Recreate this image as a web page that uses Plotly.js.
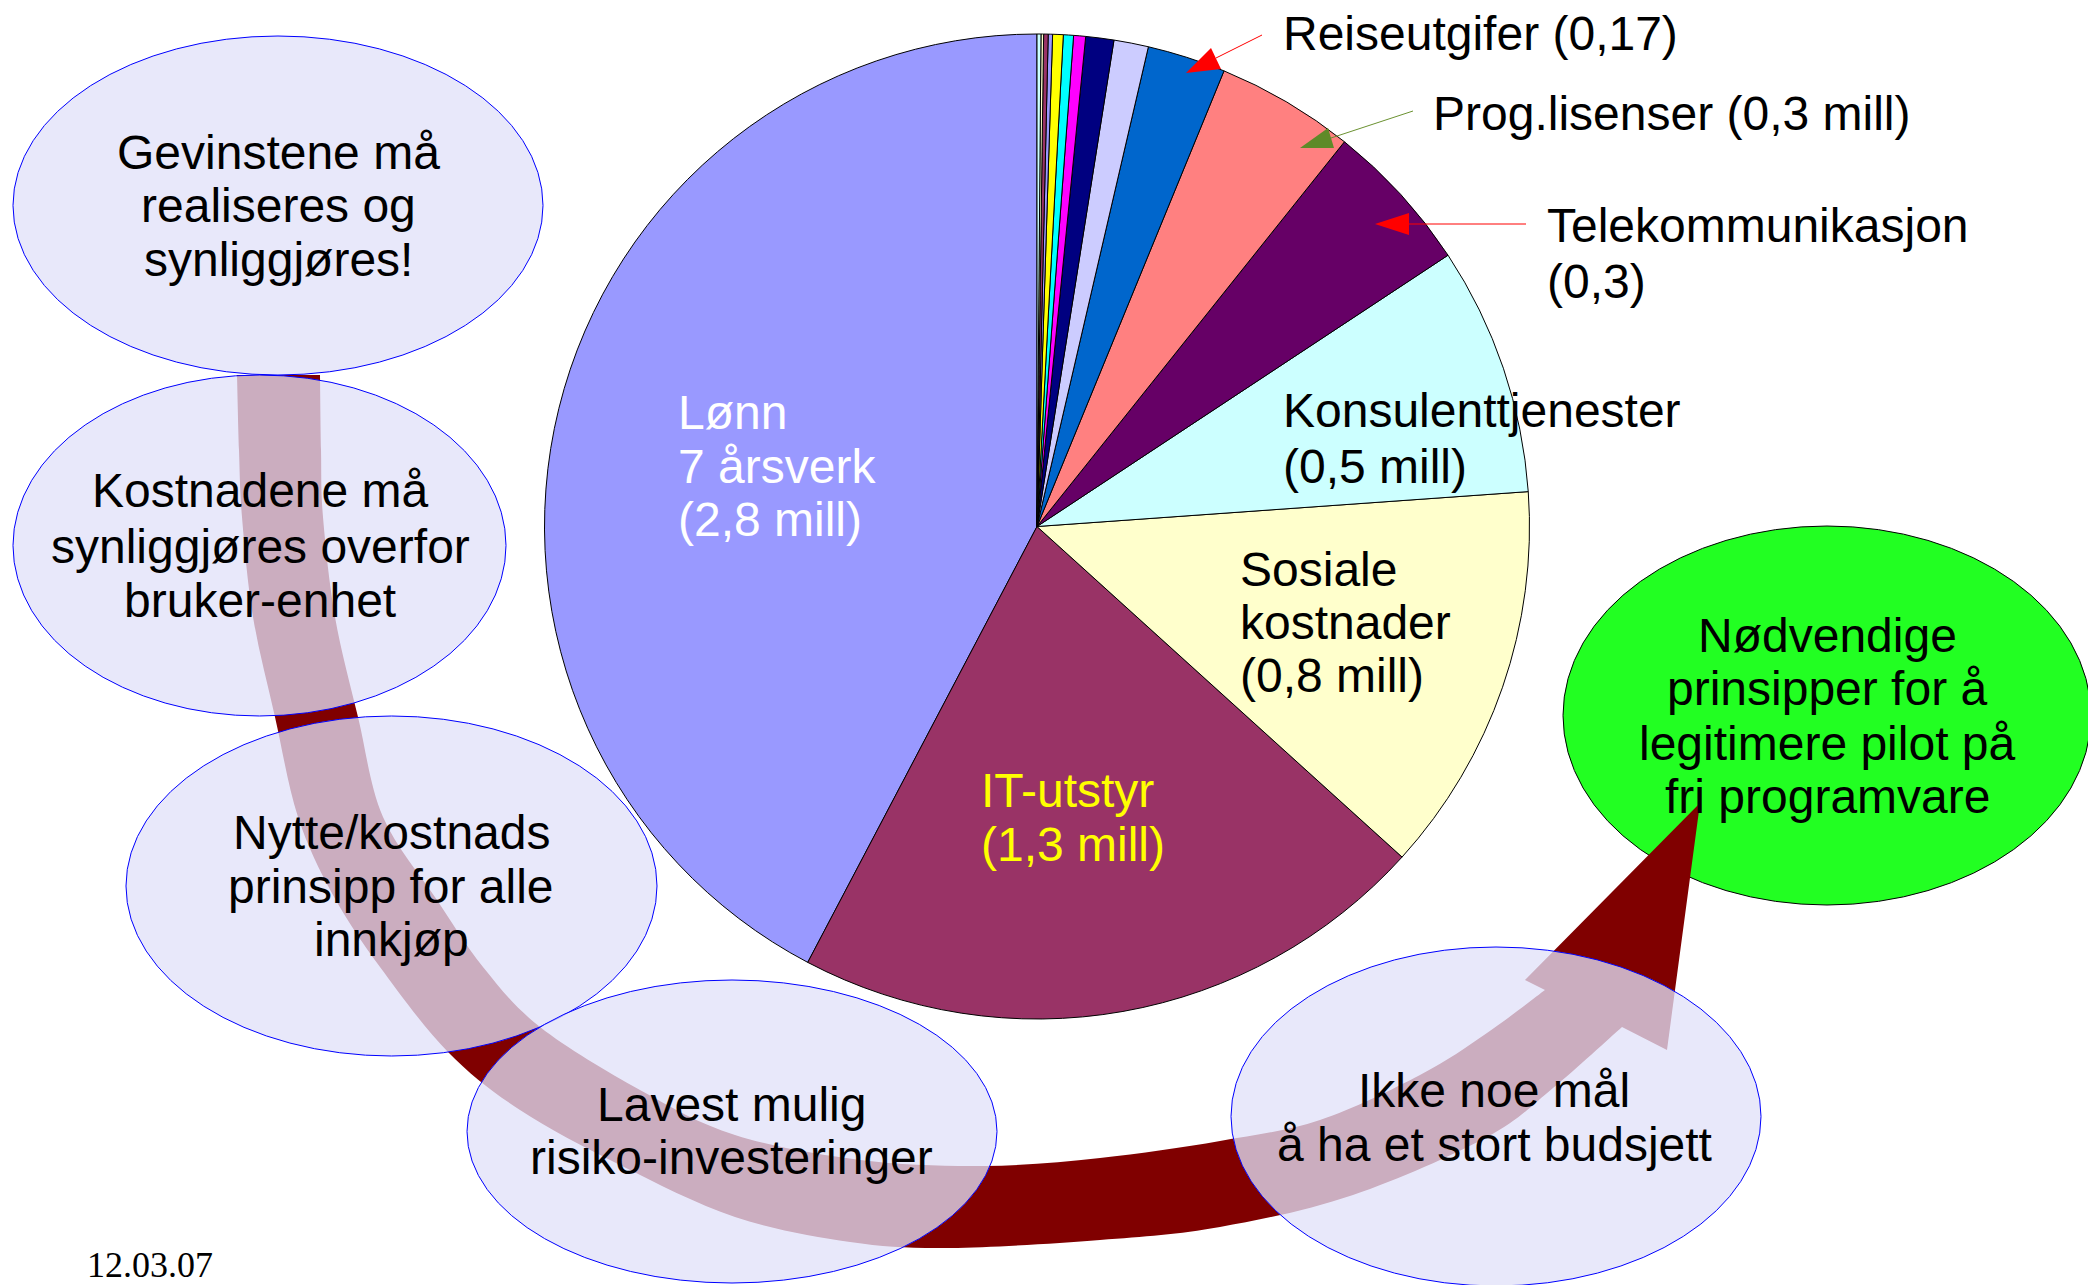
<!DOCTYPE html>
<html>
<head>
<meta charset="utf-8">
<script src="https://cdn.plot.ly/plotly-3.0.1.min.js"></script>
<style>
  html, body { margin: 0; padding: 0; background: #ffffff; }
  #chart { width: 2088px; height: 1285px; }
</style>
</head>
<body>
<div id="chart"></div>
<script>
// ---------- DATA (kostnader, mill. kr) ----------
const sliceLabels = [
  "Lønn", "IT-utstyr", "Sosiale kostnader", "Konsulenttjenester",
  "Telekommunikasjon", "Prog.lisenser", "Reiseutgifer",
  "Annet 1", "Annet 2", "Annet 3", "Annet 4", "Annet 5",
  "Annet 6", "Annet 7", "Annet 8", "Annet 9"
];
const sliceValues = [
  2.8, 1.39, 0.85, 0.54,
  0.33, 0.30, 0.17,
  0.075, 0.061, 0.026, 0.022, 0.023,
  0.0094, 0.0098, 0.0057, 0.0085
];
const sliceColors = [
  "#9999FF", "#993366", "#FFFFCC", "#CCFFFF",
  "#660066", "#FF8080", "#0066CC",
  "#CCCCFF", "#000080", "#FF00FF", "#00FFFF", "#FFFF00",
  "#9999FF", "#993366", "#FFFFCC", "#CCFFFF"
];

// Text blocks
const lonnText = ["Lønn", "7 årsverk", "(2,8 mill)"];
const itText = ["IT-utstyr", "(1,3 mill)"];
const sosText = ["Sosiale", "kostnader", "(0,8 mill)"];
const konsText = ["Konsulenttjenester", "(0,5 mill)"];
const teleText = ["Telekommunikasjon", "(0,3)"];
const progText = ["Prog.lisenser (0,3 mill)"];
const reiseText = ["Reiseutgifer (0,17)"];

const bubble1 = ["Gevinstene må", "realiseres og", "synliggjøres!"];
const bubble2 = ["Kostnadene må", "synliggjøres overfor", "bruker-enhet"];
const bubble3 = ["Nytte/kostnads", "prinsipp for alle", "innkjøp"];
const bubble4 = ["Lavest mulig", "risiko-investeringer"];
const bubble5 = ["Ikke noe mål", "å ha et stort budsjett"];
const goalText = ["Nødvendige", "prinsipper for å", "legitimere pilot på", "fri programvare"];
const dateText = "12.03.07";

// ---------- LAYOUT HELPERS ----------
const W = 2088, H = 1285;
const X = p => p / W;
const Y = p => 1 - p / H;
const FONT = "Liberation Sans, Arial, sans-serif";

const annotations = [];
function addLines(lines, px, ys, anchor, color, size, family) {
  lines.forEach((t, i) => {
    annotations.push({
      xref: "paper", yref: "paper",
      x: X(px), y: Y(ys[i]),
      text: t, showarrow: false,
      xanchor: anchor, yanchor: "middle",
      font: { family: family || FONT, size: size || 48, color: color || "#000000" }
    });
  });
}

addLines(lonnText, 676, [413, 466, 519], "left", "#FFFFFF");
addLines(itText, 979, [790, 844], "left", "#FFFF00");
addLines(sosText, 1238, [569, 622, 675], "left");
addLines(konsText, 1281, [411, 466], "left");
addLines(teleText, 1545, [225, 281], "left");
addLines(progText, 1431, [113], "left");
addLines(reiseText, 1281, [33], "left");

addLines(bubble1, 278, [152, 206, 260], "center");
addLines(bubble2, 260, [491, 546, 600], "center");
addLines(bubble3, 391, [832, 886, 940], "center");
addLines(bubble4, 731, [1104, 1157], "center");
addLines(bubble5, 1494, [1090, 1144], "center");
addLines(goalText, 1827, [635, 688, 743, 796], "center");
addLines([dateText], 85, [1265], "left", "#000000", 36, "Liberation Serif, Times New Roman, serif");

// smooth path helper (Catmull-Rom -> cubic Bezier), pixel -> paper
function P(pt) { return X(pt[0]).toFixed(5) + "," + Y(pt[1]).toFixed(5); }
function smooth(pts) {
  let s = "";
  for (let i = 0; i < pts.length - 1; i++) {
    const p0 = pts[Math.max(0, i - 1)], p1 = pts[i], p2 = pts[i + 1], p3 = pts[Math.min(pts.length - 1, i + 2)];
    const c1 = [p1[0] + (p2[0] - p0[0]) / 6, p1[1] + (p2[1] - p0[1]) / 6];
    const c2 = [p2[0] - (p3[0] - p1[0]) / 6, p2[1] - (p3[1] - p1[1]) / 6];
    s += " C " + P(c1) + " " + P(c2) + " " + P(p2);
  }
  return s;
}

const outerEdge = [[237,375],[239,450],[242,517],[253,617],[275,717],[298,817],[333,895],[380,967],[448,1052],[520,1110],[620,1165],[735,1217],[850,1242],[950,1248],[1100,1240],[1220,1227],[1353,1195],[1487,1137],[1553,1088],[1622,1027]];
const innerEdge = [[320,375],[321,450],[323,517],[335,617],[358,717],[383,817],[437,900],[483,967],[540,1027],[640,1090],[735,1135],[860,1160],[985,1166],[1100,1158],[1220,1141],[1320,1120],[1420,1075],[1487,1033],[1545,990]];
const innerRev = innerEdge.slice().reverse();
const bigArrowPath = "M " + P(outerEdge[0]) + smooth(outerEdge) +
  " L " + P([1667,1050]) + " L " + P([1700,803]) + " L " + P([1525,980]) + " L " + P([1545,990]) +
  smooth(innerRev) + " Z";

function ellipse(x0, y0, x1, y1, fill, line) {
  return { type: "circle", xref: "paper", yref: "paper",
    x0: X(x0), x1: X(x1), y0: Y(y1), y1: Y(y0),
    fillcolor: fill, line: line, layer: "above" };
}
function tri(a, b, c, col) {
  return { type: "path", xref: "paper", yref: "paper",
    path: "M " + P(a) + " L " + P(b) + " L " + P(c) + " Z",
    fillcolor: col, line: { width: 0 }, layer: "above" };
}
function seg(a, b, col) {
  return { type: "line", xref: "paper", yref: "paper",
    x0: X(a[0]), y0: Y(a[1]), x1: X(b[0]), y1: Y(b[1]),
    line: { color: col, width: 1 }, layer: "above" };
}

const LAV = "rgba(225,225,249,0.77)";
const BLUE = { color: "#0000FF", width: 1 };
const shapes = [
  ellipse(1563, 526, 2091, 905, "#22FF22", { color: "#000000", width: 1 }),
  { type: "path", xref: "paper", yref: "paper", path: bigArrowPath,
    fillcolor: "#800000", line: { width: 0 }, layer: "above" },
  ellipse(13, 36, 543, 375, LAV, BLUE),
  ellipse(13, 375, 506, 716, LAV, BLUE),
  ellipse(126, 716, 657, 1056, LAV, BLUE),
  ellipse(467, 980, 997, 1283, LAV, BLUE),
  ellipse(1231, 947, 1761, 1286, LAV, BLUE),
  // label arrows
  seg([1262,35], [1216,58], "#FF0000"),
  tri([1186,73], [1211,48], [1221,69], "#FF0000"),
  seg([1413,111], [1331,138], "#6B9231"),
  tri([1300,148], [1328,128], [1334,148], "#5F8A28"),
  seg([1526,224], [1409,224], "#FF0000"),
  tri([1375,224], [1409,213], [1409,235], "#FF0000")
];

// First slice (Lønn) must end at 12 o'clock, the rest run counterclockwise from its start.
const total = sliceValues.reduce((a, b) => a + b, 0);
const startRotation = 360 * (1 - sliceValues[0] / total);

const trace = {
  type: "pie",
  labels: sliceLabels,
  values: sliceValues,
  sort: false,
  direction: "counterclockwise",
  rotation: startRotation,
  textinfo: "none",
  hoverinfo: "label+value",
  marker: { colors: sliceColors, line: { color: "#000000", width: 1 } },
  domain: { x: [544.5 / W, 1529.5 / W], y: [(H - 1019) / H, (H - 34) / H] },
  showlegend: false
};

const layout = {
  width: W, height: H,
  margin: { l: 0, r: 0, t: 0, b: 0 },
  paper_bgcolor: "#ffffff",
  plot_bgcolor: "#ffffff",
  showlegend: false,
  shapes: shapes,
  annotations: annotations
};

Plotly.newPlot("chart", [trace], layout, { displayModeBar: false, staticPlot: true });
</script>
</body>
</html>
